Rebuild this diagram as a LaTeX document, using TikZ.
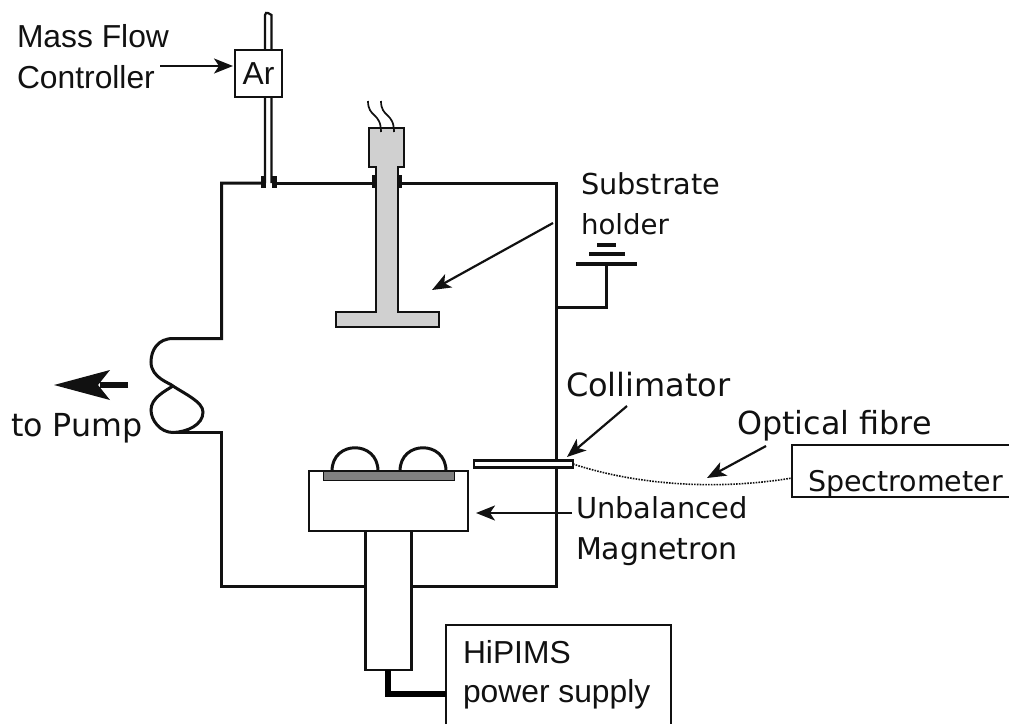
\documentclass[tikz,border=0pt]{standalone}
\usepackage{fontspec}
\setmainfont{DejaVu Sans}
\newfontfamily\lib{Liberation Sans}
\usetikzlibrary{arrows.meta}
\definecolor{holdergray}{HTML}{D0D0D0}
\definecolor{targetgray}{HTML}{808080}
\definecolor{ink}{HTML}{111111}
\tikzset{
  x=1pt,y=-1pt,
  wall/.style={draw=ink,line width=3pt,line join=miter},
  thin wall/.style={draw=ink,line width=2.2pt},
  box/.style={draw=ink,line width=2.6pt,fill=white,inner sep=0pt,outer sep=0pt},
  ptr/.style={draw=ink,line width=2.2pt,-{Stealth[length=19pt,width=15pt,inset=5pt]}},
  dj/.style={inner sep=0pt,outer sep=0pt,anchor=base west,text=ink,font=\fontsize{#1}{30}\selectfont},
  dj/.default=28.8,
  lb/.style={inner sep=0pt,outer sep=0pt,anchor=base west,text=ink,font=\fontsize{31.8}{34}\lib},
}
\begin{document}
\begin{tikzpicture}
\useasboundingbox (0,0) rectangle (1009,724);

% pointer free ends
\coordinate (mfcfrom) at (160,66);
\coordinate (mfcto) at (233,66);
\coordinate (subfrom) at (553,223);
\coordinate (subto) at (432,290);
\coordinate (colfrom) at (627,406);
\coordinate (colto) at (567,457);
\coordinate (fibfrom) at (766,446);
\coordinate (fibto) at (707,478);
\coordinate (magfrom) at (572,513);
\coordinate (magto) at (476,513);
\coordinate (pumpfrom) at (128,385);
\coordinate (pumpto) at (54,385);

% gas tube
\draw[thin wall] (265,183) -- (265,15) .. controls (265,13) and (267,12) .. (268,13) -- (271.5,15) -- (271.5,183);

% chamber
\draw[wall] (262,183) -- (221.5,183) -- (221.5,338.5) -- (173,338.5)
  .. controls (158,338.5) and (151,350) .. (151,362)
  .. controls (151,378) and (170,383) .. (173,386)
  .. controls (185,394) and (203,402) .. (203,412)
  .. controls (203,425) and (187,432) .. (173,432.5)
  .. controls (160,432.5) and (151,420) .. (151,410)
  .. controls (151,398) and (165,391) .. (173,386);
\draw[wall] (173,432.5) -- (221.5,432.5) -- (221.5,586) -- (556,586) -- (556,183) -- (402,183);
\draw[wall] (276,183) -- (372,183);

% gas flanges
\fill[ink] (261,176) rectangle (265.5,188);
\fill[ink] (272,176) rectangle (276.5,188);

% substrate holder
\draw[thin wall,fill=holdergray] (369,128) -- (404,128) -- (404,167) -- (398,167) -- (398,312)
  -- (439,312) -- (439,327) -- (336,327) -- (336,312) -- (376,312) -- (376,167) -- (369,167) -- cycle;
\fill[ink] (372,175) rectangle (377,188);
\fill[ink] (398,175) rectangle (402,188);
\draw[draw=ink,line width=1.7pt] (368,101) .. controls (368,118) and (381,112) .. (381,132);
\draw[draw=ink,line width=1.7pt] (381,101) .. controls (381,118) and (394,112) .. (394,132);

% bias battery
\draw[draw=ink,line width=3.2pt] (597,245) -- (616,245);
\draw[draw=ink,line width=3.2pt] (589,254) -- (625,254);
\draw[draw=ink,line width=3.2pt] (576,264) -- (637,264);
\draw[wall] (606,264) -- (606,307) -- (556,307);

% magnetron
\draw[wall] (332,471) .. controls (332,440) and (378,440) .. (378,471);
\draw[wall] (400,471) .. controls (400,440) and (446,440) .. (446,471);
\node[box,minimum width=46pt,minimum height=139pt,anchor=north west] (stem) at (365.5,531) {};
\node[box,minimum width=159pt,minimum height=60pt,anchor=north west] (magnetron) at (309,471) {};
\node[draw=ink,line width=1pt,fill=targetgray,inner sep=0pt,minimum width=131pt,minimum height=9pt,anchor=north west] (target) at (323,471) {};
\draw[draw=ink,line width=2.6pt] (309,471) -- (468,471);

% collimator
\node[box,line width=2.2pt,minimum width=99pt,minimum height=7pt,anchor=north west] (collimator) at (474,460.5) {};

% hipims
\draw[box] (446,724) -- (446,625) -- (671,625) -- (671,724);
\coordinate (hipims) at (446,694);
\draw[draw=black,line width=6pt] (hipims) -- (388,694) -- (388,670);

% spectrometer
\draw[draw=ink,line width=1.6pt] (1009,445) -- (792,445) -- (792,497) -- (1009,497);
\coordinate (specin) at (792,478);
\coordinate (colout) at (573,464);
\draw[draw=ink,line width=1.6pt,dash pattern=on 1.6pt off 1.2pt] (colout) .. controls (640,486) and (720,490) .. (specin);

% Ar
\node[box,lb,anchor=center,minimum width=47pt,minimum height=47pt] (ar) at (258.5,73.5) {Ar};

% pointers
\draw[ptr] (mfcfrom) -- (mfcto);
\draw[ptr] (subfrom) -- (subto);
\draw[ptr] (colfrom) -- (colto);
\draw[ptr] (fibfrom) -- (fibto);
\draw[ptr] (magfrom) -- (magto);
\draw[draw=ink,line width=6pt] (pumpfrom) -- (100,385);
\fill[ink] (pumpto) -- (110,370) -- (98,385) -- (110,400) -- cycle;

% labels
\node[lb] (t1) at (17,47) {Mass Flow};
\node[lb] (t2) at (17,88) {Controller};
\node[dj=28.8] (t3) at (581,194) {Substrate};
\node[dj=27.6] (t4) at (581,234) {holder};
\node[dj=32] (t5) at (566,396) {Collimator};
\node[dj=31.8] (t6) at (737,434) {Optical fibre};
\node[dj=28.5] (t7) at (808,491) {Spectrometer};
\node[dj=28.9] (t8) at (576,518) {Unbalanced};
\node[dj=30] (t9) at (576,559) {Magnetron};
\node[dj=31.7] (t10) at (11,436) {to Pump};
\node[lb] (t11) at (463,663) {HiPIMS};
\node[lb] (t12) at (463,702) {power supply};
\end{tikzpicture}
\end{document}
